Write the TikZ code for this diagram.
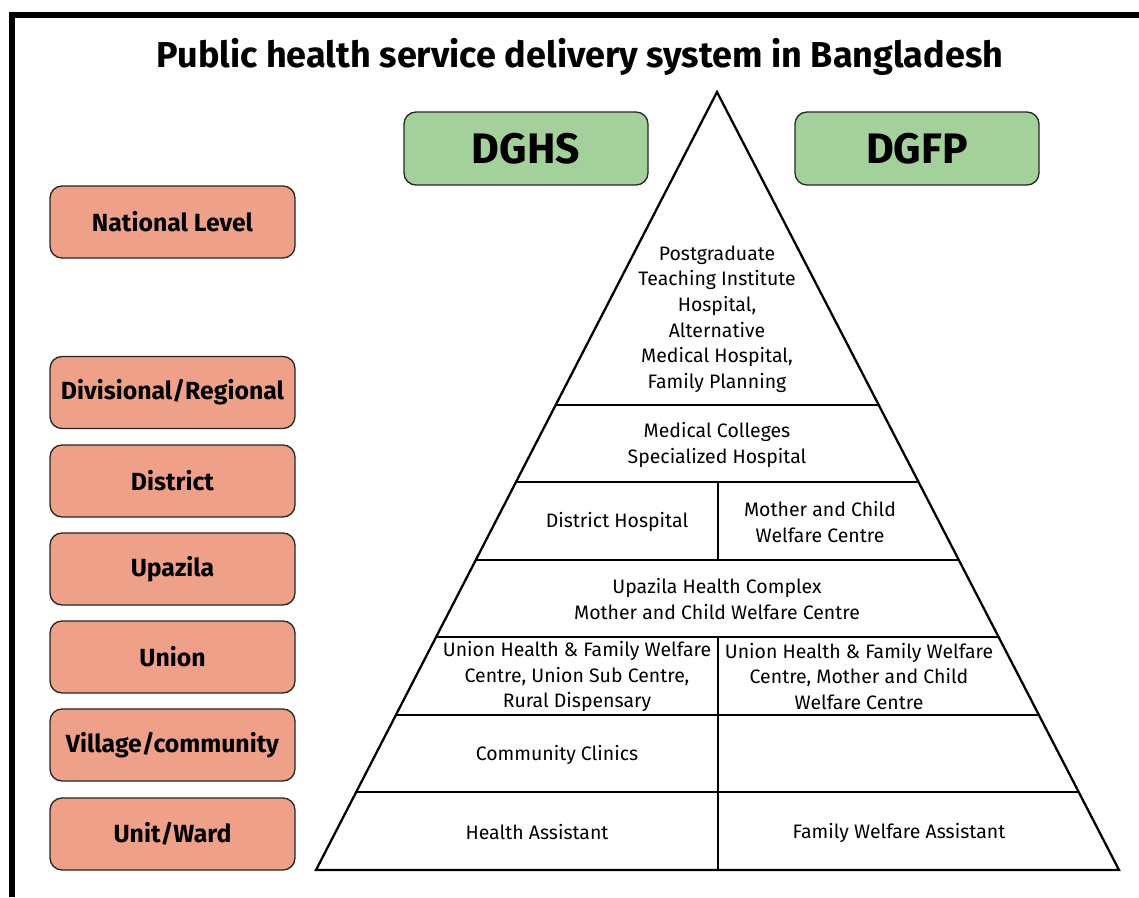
\documentclass[tikz,border=0pt]{standalone}
\usepackage{fontspec}
\setmainfont{Fira Sans}
\usetikzlibrary{calc}
\definecolor{levelfill}{RGB}{239,160,136}
\definecolor{agencyfill}{RGB}{164,208,155}
\begin{document}
\begin{tikzpicture}[x=0.75pt,y=-0.75pt,
  levelbox/.style={draw=black!85,line width=1pt,fill=levelfill,rounded corners=9pt,
    minimum width=183.75pt,minimum height=54pt,inner sep=0pt,
    font=\fontsize{18.6}{22}\selectfont\bfseries},
  agencybox/.style={draw=black!85,line width=1pt,fill=agencyfill,rounded corners=9pt,
    minimum width=183pt,minimum height=54.75pt,inner sep=0pt,
    font=\fontsize{32}{36}\selectfont\bfseries},
  tier/.style={align=center,inner sep=0pt,font=\fontsize{14.6}{19.2}\selectfont},
  pyr/.style={line width=1.7pt,line join=miter}]
\useasboundingbox (0,0) rectangle (1139,897);
\fill[white] (0,0) rectangle (1139,897);

% outer frame (top and left edges)
\draw[line width=3.8pt] (12,897) -- (12,15) -- (1139,15);

% title
\node[font=\fontsize{27}{31}\selectfont\bfseries] (title) at (580,57) {Public health service delivery system in Bangladesh};

% agencies
\node[agencybox] (dghs) at (526,148.5) {DGHS};
\node[agencybox] (dgfp) at (917,148.5) {DGFP};

% administrative levels
\node[levelbox] (national) at (172.5,222) {National Level};
\node[levelbox] (division) at (172.5,392.5) {Divisional/Regional};
\node[levelbox] (district) at (172.5,481) {District};
\node[levelbox] (upazila) at (172.5,569) {Upazila};
\node[levelbox] (union) at (172.5,657) {Union};
\node[levelbox] (village) at (172.5,745) {Village/community};
\node[levelbox] (unit) at (172.5,834) {Unit/Ward};

% pyramid outline
\coordinate (apex) at (717,92);
\coordinate (bl) at (316,870);
\coordinate (br) at (1119,870);
\draw[pyr] (apex) -- (bl) -- (br) -- cycle;

% tier boundaries
\foreach \t/\n in {0.4023/a,0.5013/b,0.6015/c,0.7005/d,0.8008/e,0.8997/f}{
  \coordinate (l\n) at ($(apex)!\t!(bl)$);
  \coordinate (r\n) at ($(apex)!\t!(br)$);
  \draw[pyr] (l\n) -- (r\n);
}
% dividers between DGHS and DGFP facilities
\coordinate (db) at (718,482);
\coordinate (dc) at (718,560);
\coordinate (dd) at (718,637);
\coordinate (base) at (718,870);
\draw[pyr] (db) -- (dc);
\draw[pyr] (dd) -- (base);

% tier texts
\node[tier] (t1) at (717,319) {Postgraduate\\Teaching Institute\\Hospital,\\Alternative\\Medical Hospital,\\Family Planning};
\node[tier] (t2) at (717,445) {Medical Colleges\\Specialized Hospital};
\node[tier] (t3l) at (617,522) {District Hospital};
\node[tier] (t3r) at (820,522) {Mother and Child\\Welfare Centre};
\node[tier] (t4) at (717,599) {Upazila Health Complex\\Mother and Child Welfare Centre};
\node[tier] (t5l) at (577,676.5) {Union Health \& Family Welfare\\Centre, Union Sub Centre,\\Rural Dispensary};
\node[tier] (t5r) at (859,676.5) {Union Health \& Family Welfare\\Centre, Mother and Child\\Welfare Centre};
\node[tier] (t6l) at (557,754.5) {Community Clinics};
\node[tier] (t7l) at (537,832.5) {Health Assistant};
\node[tier] (t7r) at (899,832.5) {Family Welfare Assistant};
\end{tikzpicture}
\end{document}
